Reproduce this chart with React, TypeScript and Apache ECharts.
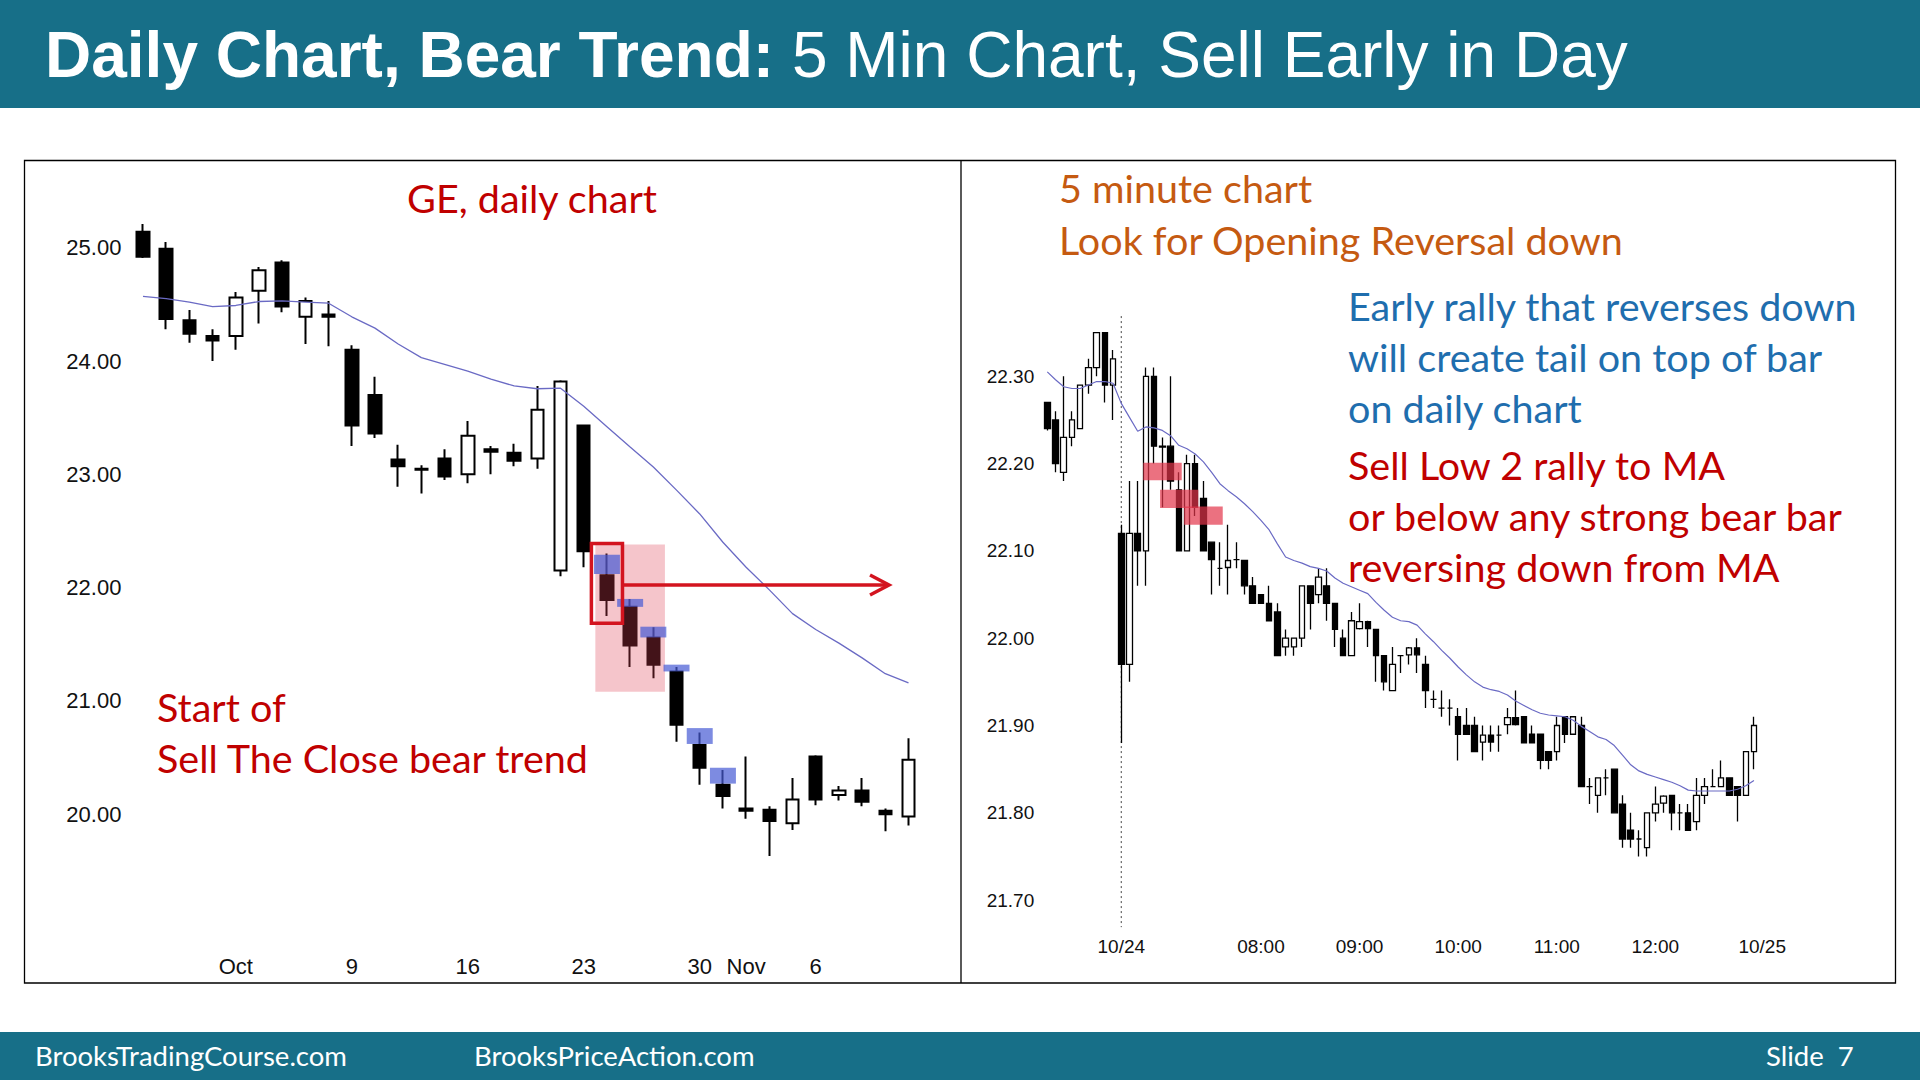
import React, { useEffect, useRef } from "react";
import * as echarts from "echarts";

// ---------------- Daily chart (GE) ----------------
const dailyDates = [
  "09-26", "09-27", "09-28", "09-29", "10-02", "10-03", "10-04", "10-05", "10-06",
  "10-09", "10-10", "10-11", "10-12", "10-13", "10-16", "10-17", "10-18", "10-19", "10-20",
  "10-23", "10-24", "10-25", "10-26", "10-27", "10-30", "10-31", "11-01", "11-02", "11-03",
  "11-06", "11-07", "11-08", "11-09", "11-10",
];
const dailyTicks: Record<string, string> = {
  "10-02": "Oct", "10-09": "9", "10-16": "16", "10-23": "23", "10-30": "30", "11-01": "Nov", "11-06": "6",
};
const dailyOpen = [25.14, 24.99, 24.36, 24.22, 24.22, 24.62, 24.87, 24.39, 24.41, 24.10, 23.70, 23.13, 23.05, 23.14, 23.00, 23.22, 23.19, 23.14, 22.15, 23.43, 22.11, 21.83, 21.56, 21.26, 20.61, 20.26, 20.05, 20.04, 19.92, 20.51, 20.17, 20.21, 20.03, 19.98];
const dailyHigh = [25.21, 25.05, 24.45, 24.28, 24.61, 24.83, 24.89, 24.56, 24.53, 24.14, 23.86, 23.26, 23.08, 23.22, 23.47, 23.25, 23.27, 23.78, 23.83, 23.44, 22.30, 21.90, 21.65, 21.30, 20.72, 20.39, 20.51, 20.07, 20.32, 20.52, 20.25, 20.32, 20.05, 20.67];
const dailyLow = [24.91, 24.28, 24.16, 24.00, 24.10, 24.33, 24.43, 24.15, 24.13, 23.25, 23.32, 22.89, 22.83, 22.95, 22.92, 23.00, 23.07, 23.05, 22.10, 22.18, 21.75, 21.30, 21.20, 20.64, 20.26, 20.05, 19.96, 19.63, 19.86, 20.08, 20.12, 20.07, 19.85, 19.90];
const dailyClose = [24.92, 24.37, 24.24, 24.18, 24.56, 24.80, 24.48, 24.53, 24.39, 23.43, 23.36, 23.07, 23.04, 22.98, 23.34, 23.20, 23.12, 23.57, 23.82, 22.32, 21.89, 21.49, 21.32, 20.79, 20.41, 20.16, 20.03, 19.94, 20.13, 20.13, 20.21, 20.11, 20.00, 20.48];
const dailyMA = [24.57, 24.55, 24.52, 24.48, 24.49, 24.525, 24.53, 24.52, 24.51, 24.39, 24.29, 24.15, 24.03, 23.97, 23.91, 23.84, 23.78, 23.755, 23.76, 23.60, 23.42, 23.24, 23.065, 22.86, 22.65, 22.40, 22.18, 21.98, 21.77, 21.63, 21.51, 21.38, 21.24, 21.16];
const dailyYTicks = [20, 21, 22, 23, 24, 25];

// highlighted bar tops: [bar index, top price, bottom price]
const dailyTopHighlights = [
  [20, 22.29, 22.12], [21, 21.9, 21.83], [22, 21.655, 21.56],
  [23, 21.32, 21.26], [24, 20.76, 20.62], [25, 20.41, 20.27],
];
// sell-the-close zone: [first bar, last bar, top price, bottom price]
const dailySellZone = [[20, 22, 22.38, 21.08]];
// signal bar frame: [bar index, top price, bottom price]
const dailySignalFrame = [[20, 22.39, 21.685]];
// arrow: [anchor bar, start offset (bars), end offset (bars), price]
const dailyArrow = [[20, 0.67, 12.16, 22.023]];

// ---------------- 5 minute chart ----------------
function session(day: string, from: string, to: string): string[] {
  const toMin = (s: string) => parseInt(s.slice(0, 2), 10) * 60 + parseInt(s.slice(3), 10);
  const out: string[] = [];
  for (let m = toMin(from); m <= toMin(to); m += 5) {
    const h = String(Math.floor(m / 60)).padStart(2, "0");
    const mm = String(m % 60).padStart(2, "0");
    out.push(`${day} ${h}:${mm}`);
  }
  return out;
}
const intradayTimes = [
  ...session("10/23", "12:20", "13:00"),
  ...session("10/24", "06:35", "13:00"),
  "10/25 06:35",
];
const intradayTicks: Record<string, string> = {
  "10/24 06:35": "10/24", "10/24 08:00": "08:00", "10/24 09:00": "09:00", "10/24 10:00": "10:00",
  "10/24 11:00": "11:00", "10/24 12:00": "12:00", "10/25 06:35": "10/25",
};
const intradayOpen = [
  22.27, 22.25, 22.19, 22.23, 22.24, 22.29, 22.31, 22.35, 22.29,
  22.12, 21.97, 22.12, 22.10, 22.30, 22.22, 22.22, 22.17, 22.10, 22.20,
  22.16, 22.11, 22.08, 22.081, 22.09, 22.089, 22.06, 22.05, 22.04, 22.03,
  21.99, 21.99, 22.00, 22.06, 22.05, 22.06, 22.04, 22.00, 21.98, 22.011,
  22.019, 22.01, 21.98, 21.94, 21.98, 21.981, 21.989, 21.97, 21.93, 21.92,
  21.92, 21.91, 21.90, 21.90, 21.881, 21.889, 21.889, 21.901, 21.909, 21.91,
  21.89, 21.89, 21.87, 21.87, 21.91, 21.89, 21.90, 21.83, 21.82, 21.84,
  21.85, 21.81, 21.78, 21.77, 21.76, 21.80, 21.811, 21.82, 21.80, 21.80,
  21.79, 21.82, 21.83, 21.83, 21.84, 21.83, 21.82, 21.87,
];
const intradayHigh = [
  22.27, 22.26, 22.30, 22.26, 22.29, 22.32, 22.35, 22.35, 22.33,
  22.13, 22.18, 22.18, 22.31, 22.31, 22.23, 22.30, 22.19, 22.21, 22.21,
  22.18, 22.11, 22.11, 22.13, 22.11, 22.09, 22.07, 22.05, 22.06, 22.04,
  22.01, 22.00, 22.06, 22.06, 22.08, 22.08, 22.04, 22.01, 22.03, 22.04,
  22.02, 22.01, 21.98, 21.99, 21.98, 21.99, 22.00, 21.98, 21.94, 21.94,
  21.93, 21.92, 21.92, 21.91, 21.90, 21.90, 21.90, 21.92, 21.94, 21.91,
  21.90, 21.89, 21.87, 21.91, 21.91, 21.91, 21.91, 21.84, 21.84, 21.85,
  21.85, 21.82, 21.80, 21.78, 21.80, 21.83, 21.82, 21.82, 21.81, 21.81,
  21.84, 21.84, 21.85, 21.86, 21.84, 21.83, 21.87, 21.91,
];
const intradayLow = [
  22.238, 22.19, 22.18, 22.22, 22.24, 22.28, 22.30, 22.27, 22.25,
  21.88, 21.95, 22.06, 22.06, 22.20, 22.15, 22.17, 22.10, 22.10, 22.14,
  22.10, 22.05, 22.06, 22.05, 22.08, 22.05, 22.04, 22.04, 22.02, 21.98,
  21.98, 21.98, 21.99, 22.01, 22.04, 22.02, 21.99, 21.98, 21.98, 22.01,
  21.99, 21.95, 21.94, 21.94, 21.96, 21.97, 21.96, 21.92, 21.92, 21.91,
  21.90, 21.86, 21.89, 21.87, 21.86, 21.87, 21.87, 21.89, 21.90, 21.88,
  21.88, 21.85, 21.85, 21.86, 21.88, 21.89, 21.83, 21.81, 21.80, 21.82,
  21.80, 21.76, 21.76, 21.75, 21.75, 21.79, 21.80, 21.78, 21.78, 21.78,
  21.78, 21.81, 21.83, 21.83, 21.82, 21.79, 21.82, 21.85,
];
const intradayClose = [
  22.24, 22.20, 22.23, 22.25, 22.29, 22.31, 22.35, 22.29, 22.32,
  21.97, 22.12, 22.10, 22.30, 22.22, 22.219, 22.18, 22.10, 22.20, 22.15,
  22.10, 22.09, 22.08, 22.089, 22.09, 22.06, 22.04, 22.04, 22.02, 21.98,
  22.00, 22.00, 22.06, 22.04, 22.07, 22.04, 22.01, 21.98, 22.02, 22.019,
  22.011, 21.98, 21.95, 21.97, 21.98, 21.989, 21.981, 21.94, 21.93, 21.92,
  21.92, 21.89, 21.89, 21.87, 21.889, 21.881, 21.889, 21.909, 21.901, 21.88,
  21.88, 21.86, 21.86, 21.90, 21.89, 21.91, 21.83, 21.83, 21.84, 21.84,
  21.80, 21.77, 21.77, 21.77, 21.80, 21.81, 21.819, 21.80, 21.80, 21.78,
  21.82, 21.83, 21.83, 21.84, 21.82, 21.82, 21.87, 21.90,
];
const intradayMA = [
  22.305, 22.296, 22.288, 22.286, 22.286, 22.290, 22.294, 22.294, 22.292,
  22.269, 22.253, 22.237, 22.242, 22.241, 22.238, 22.232, 22.221, 22.217, 22.211,
  22.202, 22.190, 22.177, 22.169, 22.162, 22.154, 22.145, 22.135, 22.124, 22.108,
  22.093, 22.089, 22.086, 22.082, 22.080, 22.077, 22.069, 22.063, 22.059, 22.055,
  22.051, 22.041, 22.032, 22.024, 22.020, 22.019, 22.015, 22.005, 21.996, 21.986,
  21.977, 21.967, 21.958, 21.950, 21.944, 21.941, 21.939, 21.935, 21.928, 21.923,
  21.918, 21.914, 21.912, 21.911, 21.910, 21.906, 21.899, 21.893, 21.887, 21.884,
  21.877, 21.866, 21.855, 21.848, 21.844, 21.841, 21.838, 21.835, 21.831, 21.826,
  21.825, 21.825, 21.825, 21.825, 21.825, 21.827, 21.831, 21.837,
];
// Low 2 sell zones: [anchor bar, start offset, end offset, top price, bottom price]
const intradaySellZones = [
  [12, -0.32, 4.36, 22.201, 22.181],
  [14, -0.28, 4.38, 22.17, 22.149],
  [17, -0.36, 4.35, 22.151, 22.13],
];
// session open marker: [bar index, top price, bottom price]
const intradayOpenMarker = [[9, 22.369, 21.669]];

// ---------------- styles ----------------
const ARIAL = '"Liberation Sans", Arial, sans-serif';
const CAL = 'Lato, "Open Sans", sans-serif';
const TEAL = "#176f88";
const RED = "#c00000";
const ORANGE = "#c55a11";
const BLUE = "#1f6eae";
const FRAME_RED = "#d3141f";
const NOTE_SIZE = 39.5;

function txt(text: string, x: number, y: number, size: number, color: string, family: string, align = "left") {
  return {
    type: "text",
    x,
    y,
    silent: true,
    z: 20,
    style: {
      text,
      fill: color,
      fontSize: size,
      fontFamily: family,
      textAlign: align,
      textVerticalAlign: "middle",
      align,
      verticalAlign: "middle",
    },
  };
}

function buildOption(): any {
  const leftCandles = dailyOpen.map((o, i) => [o, dailyClose[i], dailyLow[i], dailyHigh[i]]);
  const rightCandles = intradayOpen.map((o, i) => [o, intradayClose[i], intradayLow[i], intradayHigh[i]]);

  return {
    animation: false,
    backgroundColor: "#ffffff",
    grid: [
      { left: 131.4, top: 191.05, width: 788.7, height: 736.45 },
      { left: 1043.2, top: 289.0, width: 723.1, height: 698.4 },
    ],
    xAxis: [
      {
        type: "category",
        gridIndex: 0,
        data: dailyDates,
        boundaryGap: true,
        axisLine: { show: false },
        axisTick: { show: false },
        splitLine: { show: false },
        axisLabel: {
          interval: (_i: number, v: string) => !!dailyTicks[v],
          formatter: (v: string) => dailyTicks[v] || "",
          margin: 28,
          fontSize: 22,
          fontFamily: ARIAL,
          color: "#111",
        },
      },
      {
        type: "category",
        gridIndex: 1,
        data: intradayTimes,
        boundaryGap: true,
        axisLine: { show: false },
        axisTick: { show: false },
        splitLine: { show: false },
        axisLabel: {
          interval: (_i: number, v: string) => !!intradayTicks[v],
          formatter: (v: string) => intradayTicks[v] || "",
          margin: -50,
          fontSize: 19,
          fontFamily: ARIAL,
          color: "#111",
        },
      },
    ],
    yAxis: [
      {
        type: "value",
        gridIndex: 0,
        min: 19,
        max: 25.5,
        interval: 1,
        axisLine: { show: false },
        axisTick: { show: false },
        splitLine: { show: false },
        axisLabel: {
          margin: 10,
          fontSize: 22,
          fontFamily: ARIAL,
          color: "#111",
          formatter: (v: number) => (dailyYTicks.some((t) => Math.abs(t - v) < 1e-6) ? v.toFixed(2) : ""),
        },
      },
      {
        type: "value",
        gridIndex: 1,
        min: 21.6,
        max: 22.4,
        interval: 0.1,
        axisLine: { show: false },
        axisTick: { show: false },
        splitLine: { show: false },
        axisLabel: {
          margin: 9,
          fontSize: 19,
          fontFamily: ARIAL,
          color: "#111",
          formatter: (v: number) => (v > 21.695 && v < 22.305 ? v.toFixed(2) : ""),
        },
      },
    ],
    series: [
      {
        name: "GE daily",
        type: "candlestick",
        xAxisIndex: 0,
        yAxisIndex: 0,
        barWidth: 13,
        z: 2,
        data: leftCandles,
        itemStyle: { color: "#ffffff", color0: "#000000", borderColor: "#000000", borderColor0: "#000000", borderWidth: 2 },
      },
      {
        name: "Daily MA",
        type: "line",
        xAxisIndex: 0,
        yAxisIndex: 0,
        data: dailyMA,
        symbol: "none",
        z: 3,
        lineStyle: { color: "#6a6ac4", width: 1.3 },
      },
      {
        name: "Sell zone",
        type: "custom",
        xAxisIndex: 0,
        yAxisIndex: 0,
        silent: true,
        z: 4,
        data: dailySellZone,
        encode: { x: [0, 1], y: [2, 3] },
        renderItem: (_p: any, api: any) => {
          const a = api.coord([api.value(0), api.value(2)]);
          const b = api.coord([api.value(1), api.value(3)]);
          const band = api.size([1, 0])[0];
          return {
            type: "rect",
            shape: { x: a[0] - band / 2, y: a[1], width: b[0] - a[0] + band, height: b[1] - a[1] },
            style: { fill: "rgba(222,62,82,0.3)" },
          };
        },
      },
      {
        name: "Bar top highlights",
        type: "custom",
        xAxisIndex: 0,
        yAxisIndex: 0,
        silent: true,
        z: 5,
        data: dailyTopHighlights,
        encode: { x: 0, y: [1, 2] },
        renderItem: (_p: any, api: any) => {
          const i = api.value(0);
          const a = api.coord([i, api.value(1)]);
          const b = api.coord([i, api.value(2)]);
          const w = api.size([1, 0])[0] * 1.12;
          return {
            type: "rect",
            shape: { x: a[0] - w / 2, y: a[1], width: w, height: b[1] - a[1] },
            style: { fill: "rgba(70,90,212,0.7)" },
          };
        },
      },
      {
        name: "Signal frame",
        type: "custom",
        xAxisIndex: 0,
        yAxisIndex: 0,
        silent: true,
        z: 6,
        data: dailySignalFrame,
        encode: { x: 0, y: [1, 2] },
        renderItem: (_p: any, api: any) => {
          const i = api.value(0);
          const a = api.coord([i, api.value(1)]);
          const b = api.coord([i, api.value(2)]);
          const w = api.size([1, 0])[0] * 1.34;
          return {
            type: "rect",
            shape: { x: a[0] - w / 2, y: a[1], width: w, height: b[1] - a[1] },
            style: { fill: "none", stroke: FRAME_RED, lineWidth: 3.5 },
          };
        },
      },
      {
        name: "Arrow",
        type: "custom",
        xAxisIndex: 0,
        yAxisIndex: 0,
        silent: true,
        z: 6,
        data: dailyArrow,
        encode: { x: 0, y: 3 },
        renderItem: (_p: any, api: any) => {
          const p = api.coord([api.value(0), api.value(3)]);
          const band = api.size([1, 0])[0];
          const x1 = p[0] + api.value(1) * band;
          const x2 = p[0] + api.value(2) * band;
          const y = p[1];
          return {
            type: "group",
            children: [
              { type: "line", shape: { x1, y1: y, x2, y2: y }, style: { stroke: FRAME_RED, lineWidth: 3.5 } },
              {
                type: "polyline",
                shape: { points: [[x2 - 19, y - 10], [x2, y], [x2 - 19, y + 10]] },
                style: { stroke: FRAME_RED, lineWidth: 3.5, fill: "none" },
              },
            ],
          };
        },
      },
      {
        name: "GE 5 min",
        type: "candlestick",
        xAxisIndex: 1,
        yAxisIndex: 1,
        barWidth: 6,
        z: 2,
        data: rightCandles,
        itemStyle: { color: "#ffffff", color0: "#000000", borderColor: "#000000", borderColor0: "#000000", borderWidth: 1.3 },
      },
      {
        name: "5 min MA",
        type: "line",
        xAxisIndex: 1,
        yAxisIndex: 1,
        data: intradayMA,
        symbol: "none",
        z: 3,
        lineStyle: { color: "#6a6ac4", width: 1.2 },
      },
      {
        name: "Open marker",
        type: "custom",
        xAxisIndex: 1,
        yAxisIndex: 1,
        silent: true,
        z: 1,
        data: intradayOpenMarker,
        encode: { x: 0, y: [1, 2] },
        renderItem: (_p: any, api: any) => {
          const i = api.value(0);
          const a = api.coord([i, api.value(1)]);
          const b = api.coord([i, api.value(2)]);
          return {
            type: "line",
            shape: { x1: a[0], y1: a[1], x2: b[0], y2: b[1] },
            style: { stroke: "#444", lineWidth: 1, lineDash: [2, 3] },
          };
        },
      },
      {
        name: "Low 2 zones",
        type: "custom",
        xAxisIndex: 1,
        yAxisIndex: 1,
        silent: true,
        z: 5,
        data: intradaySellZones,
        encode: { x: 0, y: [3, 4] },
        renderItem: (_p: any, api: any) => {
          const a = api.coord([api.value(0), api.value(3)]);
          const b = api.coord([api.value(0), api.value(4)]);
          const band = api.size([1, 0])[0];
          const xs = a[0] + api.value(1) * band;
          const xe = a[0] + api.value(2) * band;
          return {
            type: "rect",
            shape: { x: xs, y: a[1], width: xe - xs, height: b[1] - a[1] },
            style: { fill: "rgba(226,52,74,0.7)" },
          };
        },
      },
    ],
    graphic: [
      { type: "rect", silent: true, z: 10, shape: { x: 0, y: 0, width: 1920, height: 108 }, style: { fill: TEAL } },
      { type: "rect", silent: true, z: 10, shape: { x: 0, y: 1032, width: 1920, height: 48 }, style: { fill: TEAL } },
      {
        type: "rect",
        silent: true,
        z: 10,
        shape: { x: 24.5, y: 160.5, width: 1871, height: 822.5 },
        style: { fill: "none", stroke: "#000", lineWidth: 1.3 },
      },
      {
        type: "line",
        silent: true,
        z: 10,
        shape: { x1: 961, y1: 160.5, x2: 961, y2: 983 },
        style: { stroke: "#000", lineWidth: 1.3 },
      },
      {
        type: "text",
        x: 45,
        y: 55,
        silent: true,
        z: 20,
        style: {
          text: "{b|Daily Chart, Bear Trend:} {r|5 Min Chart, Sell Early in Day}",
          fill: "#ffffff",
          fontSize: 64,
          fontFamily: ARIAL,
          textVerticalAlign: "middle",
          verticalAlign: "middle",
          rich: {
            b: { fill: "#ffffff", fontSize: 64, fontFamily: ARIAL, fontWeight: "bold" },
            r: { fill: "#ffffff", fontSize: 64, fontFamily: ARIAL, fontWeight: "normal" },
          },
        },
      },
      txt("GE, daily chart", 532, 197, NOTE_SIZE, RED, CAL, "center"),
      txt("Start of", 157, 706, NOTE_SIZE, RED, CAL),
      txt("Sell The Close bear trend", 157, 757, NOTE_SIZE, RED, CAL),
      txt("5 minute chart", 1059, 187, NOTE_SIZE, ORANGE, CAL),
      txt("Look for Opening Reversal down", 1059, 239, NOTE_SIZE, ORANGE, CAL),
      txt("Early rally that reverses down", 1348, 305, NOTE_SIZE, BLUE, CAL),
      txt("will create tail on top of bar", 1348, 356, NOTE_SIZE, BLUE, CAL),
      txt("on daily chart", 1348, 407, NOTE_SIZE, BLUE, CAL),
      txt("Sell Low 2 rally to MA", 1348, 464, NOTE_SIZE, RED, CAL),
      txt("or below any strong bear bar", 1348, 515, NOTE_SIZE, RED, CAL),
      txt("reversing down from MA", 1348, 566, NOTE_SIZE, RED, CAL),
      txt("BrooksTradingCourse.com", 35, 1055, 27.5, "#ffffff", CAL),
      txt("BrooksPriceAction.com", 474, 1055, 27.5, "#ffffff", CAL),
      txt("Slide  7", 1766, 1055, 27.5, "#ffffff", CAL),
    ],
  };
}

export default function App() {
  const ref = useRef<HTMLDivElement>(null);
  useEffect(() => {
    if (!ref.current) return;
    const chart = echarts.init(ref.current, null, { renderer: "svg" });
    chart.setOption(buildOption());
    return () => chart.dispose();
  }, []);
  return (
    <div
      ref={ref}
      style={{ position: "fixed", left: 0, top: 0, width: 1920, height: 1080, background: "#ffffff" }}
    />
  );
}
